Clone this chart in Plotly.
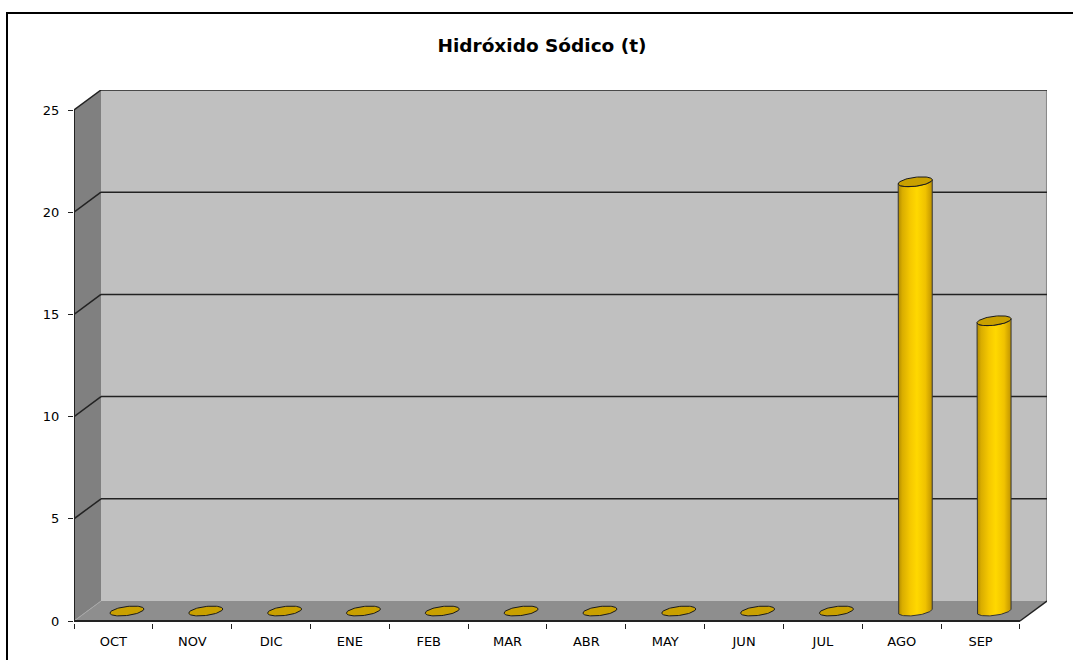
import numpy as np
import plotly.graph_objects as go

# ---------------- data ----------------
months = ["OCT", "NOV", "DIC", "ENE", "FEB", "MAR", "ABR", "MAY", "JUN", "JUL", "AGO", "SEP"]
values = [0, 0, 0, 0, 0, 0, 0, 0, 0, 0, 21.0, 14.2]
y_ticks = [0, 5, 10, 15, 20, 25]
title_text = "Hidróxido Sódico (t)"

# ---------------- geometry (pixel scale -> data units) ----------------
W, H = 1073, 660
ML, MR, MT, MB = 74, 26, 90, 37
PXX = 78.83            # px per category
PXY = 20.44            # px per value unit
DX = 27 / PXX          # depth offset in x units
DY = 20 / PXY          # depth offset in y units
YMAX = 25
n = len(months)

plot_w = W - ML - MR
plot_h = H - MT - MB
x_range = [0, plot_w / PXX]
y_lo = -2 / PXY
y_range = [y_lo, y_lo + plot_h / PXY]

fig = go.Figure()

shapes = []
# back wall
shapes.append(dict(type="rect", xref="x", yref="y", x0=DX, x1=n + DX, y0=DY, y1=YMAX + DY,
                   fillcolor="#c0c0c0", line=dict(width=0), layer="below"))
# side wall
shapes.append(dict(type="path", xref="x", yref="y",
                   path=f"M 0 0 L {DX} {DY} L {DX} {YMAX + DY} L 0 {YMAX} Z",
                   fillcolor="#808080", line=dict(width=0), layer="below"))
# floor
shapes.append(dict(type="path", xref="x", yref="y",
                   path=f"M 0 0 L {n} 0 L {n + DX} {DY} L {DX} {DY} Z",
                   fillcolor="#8e8e8e", line=dict(width=0), layer="below"))
# floor/side wall seam
shapes.append(dict(type="line", xref="x", yref="y", x0=0, y0=0, x1=DX, y1=DY,
                   line=dict(color="#a8a8a8", width=1), layer="below"))
# right edge of back wall
shapes.append(dict(type="line", xref="x", yref="y", x0=n + DX, y0=DY, x1=n + DX, y1=YMAX + DY,
                   line=dict(color="#8a8a8a", width=2), layer="below"))
# gridlines on back wall and side wall
for v in y_ticks[1:]:
    shapes.append(dict(type="line", xref="x", yref="y", x0=DX, x1=n + DX, y0=v + DY, y1=v + DY,
                       line=dict(color="#222222", width=1.5), layer="below"))
    shapes.append(dict(type="line", xref="x", yref="y", x0=0, x1=DX, y0=v, y1=v + DY,
                       line=dict(color="#222222", width=1.5), layer="below"))
# front vertical edge of side wall (axis line)
shapes.append(dict(type="line", xref="x", yref="y", x0=0, x1=0, y0=0, y1=YMAX,
                   line=dict(color="#222222", width=2), layer="below"))
# front floor edge
shapes.append(dict(type="line", xref="x", yref="y", x0=0, x1=n, y0=0, y1=0,
                   line=dict(color="#222222", width=2), layer="below"))
# right floor edge diagonal
shapes.append(dict(type="line", xref="x", yref="y", x0=n, x1=n + DX, y0=0, y1=DY,
                   line=dict(color="#222222", width=1.5), layer="below"))

# outer chart border (extends beyond the window on the right and bottom)
bx0 = (7 - ML) / plot_w
by1 = (H - MB - 13) / plot_h
shapes.append(dict(type="rect", xref="paper", yref="paper", x0=bx0, x1=1.2, y0=-0.3, y1=by1,
                   line=dict(color="black", width=2), fillcolor="rgba(0,0,0,0)"))

# ---------------- cylinders ----------------
A = 17 / PXX          # half width
B = 4.5 / PXY         # half height of ellipse
S = 2.0 / PXY         # shear: right side slightly higher
body_scale = [[0.0, "#b08a00"], [0.12, "#d9ad00"], [0.35, "#f5c800"], [0.55, "#ffd800"],
              [0.8, "#f0c200"], [1.0, "#c09400"]]


def ell(cx, cy, t):
    return cx + A * np.cos(t), cy + B * np.sin(t) + S * np.cos(t)


for i, (m, v) in enumerate(zip(months, values)):
    cx = i + 0.5 + DX / 2
    base = DY / 2
    top = base + v
    if v > 0:
        t_low = np.linspace(np.pi, 2 * np.pi, 40)
        bx, by = ell(cx, base, t_low)
        t_back = np.linspace(2 * np.pi, np.pi, 40)
        tx, ty = ell(cx, top, t_back)
        xs = np.concatenate([[cx - A], bx, [cx + A], tx])
        ys = np.concatenate([[top - S], by, [top + S], ty])
        xs = np.append(xs, xs[0])
        ys = np.append(ys, ys[0])
        fig.add_trace(go.Scatter(
            x=xs, y=ys, mode="lines", fill="toself",
            fillgradient=dict(type="horizontal", colorscale=body_scale),
            line=dict(color="#333333", width=1), hoverinfo="skip", showlegend=False))
    t_all = np.linspace(0, 2 * np.pi, 80)
    ex, ey = ell(cx, top, t_all)
    fig.add_trace(go.Scatter(
        x=ex, y=ey, mode="lines", fill="toself", fillcolor="#c9a000",
        line=dict(color="#1a1a1a", width=1), name=m,
        hovertemplate=f"{m}: {v}<extra></extra>", showlegend=False))

font_family = "DejaVu Sans"

fig.update_layout(
    width=W, height=H,
    autosize=False,
    margin=dict(l=ML, r=MR, t=MT, b=MB, pad=0, autoexpand=False),
    paper_bgcolor="white", plot_bgcolor="white",
    shapes=shapes,
    showlegend=False,
    title=dict(text=f"<b>{title_text}</b>", x=542 / W, xref="container", xanchor="center",
               y=1 - 46 / H, yref="container", yanchor="middle", automargin=False,
               font=dict(family=font_family, size=18.5, color="black")),
    xaxis=dict(range=x_range, showgrid=False, zeroline=False, showline=False,
               automargin=False,
               tickmode="array", tickvals=[i + 0.5 for i in range(n)], ticktext=months,
               ticks="", ticklabelstandoff=9,
               tickfont=dict(family=font_family, size=13, color="black"),
               minor=dict(tickmode="array", tickvals=list(range(n + 1)), ticks="outside",
                          ticklen=5, tickcolor="#222222", tickwidth=1, showgrid=False),
               fixedrange=True),
    yaxis=dict(range=y_range, showgrid=False, zeroline=False, showline=False,
               automargin=False,
               tickmode="array", tickvals=y_ticks, ticks="outside", ticklen=5,
               tickcolor="#222222", tickwidth=1, ticklabelstandoff=6,
               tickfont=dict(family=font_family, size=13, color="black"),
               fixedrange=True),
)

fig.write_html("out.html")
